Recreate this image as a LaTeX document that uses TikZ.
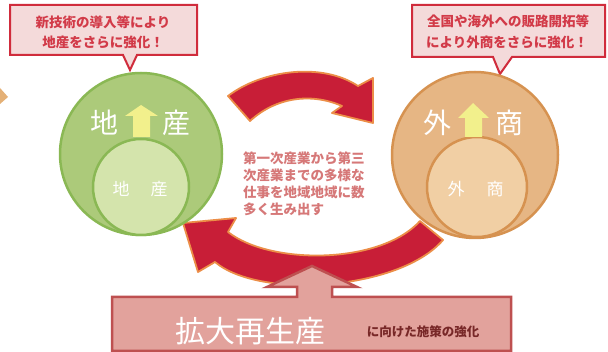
\documentclass[tikz,border=0pt]{standalone}
\usepackage{fontspec}
\newfontfamily\jp{Noto Sans CJK JP}
\definecolor{calloutfill}{RGB}{244,218,218}
\definecolor{calloutline}{RGB}{208,44,60}
\definecolor{callouttext}{RGB}{210,58,72}
\definecolor{greenouter}{RGB}{172,202,122}
\definecolor{greenline}{RGB}{138,184,84}
\definecolor{greeninner}{RGB}{212,228,172}
\definecolor{orangeouter}{RGB}{230,182,132}
\definecolor{orangeline}{RGB}{214,146,80}
\definecolor{orangeinner}{RGB}{241,207,164}
\definecolor{yellowarrow}{RGB}{242,240,140}
\definecolor{redarrow}{RGB}{200,30,55}
\definecolor{redarrowline}{RGB}{236,142,72}
\definecolor{midtext}{RGB}{214,120,120}
\definecolor{boxfill}{RGB}{226,162,156}
\definecolor{boxline}{RGB}{190,80,80}
\definecolor{boxsmall}{RGB}{120,40,40}
\definecolor{edgepiece}{RGB}{228,176,118}
\tikzset{
  callout/.style={fill=calloutfill, draw=calloutline, line width=2pt, line join=miter},
  callouttxt/.style={inner sep=0pt, text=callouttext, font=\jp\bfseries\fontsize{13.5}{16}\selectfont},
  greenbig/.style={circle, inner sep=0pt, fill=greenouter, draw=greenline, line width=2.5pt},
  greensmall/.style={circle, inner sep=0pt, fill=greeninner, draw=greenline, line width=2.5pt},
  orangebig/.style={circle, inner sep=0pt, fill=orangeouter, draw=orangeline, line width=2.5pt},
  orangesmall/.style={circle, inner sep=0pt, fill=orangeinner, draw=orangeline, line width=2.5pt},
  bigword/.style={inner sep=0pt, text=white, font=\jp\fontsize{28}{30}\selectfont},
  smallword/.style={inner sep=0pt, text=white, font=\jp\fontsize{17}{20}\selectfont},
  uparrow/.style={fill=yellowarrow},
  cyclearrow/.style={fill=redarrow, draw=redarrowline, line width=1.8pt, line join=round},
  midtxt/.style={inner sep=0pt, anchor=west, text=midtext, font=\jp\bfseries\fontsize{13.5}{16}\selectfont},
  basebox/.style={fill=boxfill, draw=boxline, line width=2.5pt, line join=miter},
}
\begin{document}
\begin{tikzpicture}[x=1pt,y=-1pt]
\useasboundingbox (0,0) rectangle (608,352);
\fill[white] (0,0) rectangle (608,352);

% small piece at left edge
\fill[edgepiece] (0,88) -- (8,97) -- (0,104) -- cycle;

% callouts
\draw[callout] (10,5) -- (197,5) -- (197,55) -- (137,55) -- (130,70) -- (123,55) -- (10,55) -- cycle;
\node[callouttxt] (cl1) at (103,22) {新技術の導入等により};
\node[callouttxt] (cl2) at (103,42) {地産をさらに強化！};

\draw[callout] (412,5) -- (605,5) -- (605,57) -- (512,57) -- (500,74) -- (493,57) -- (412,57) -- cycle;
\node[callouttxt] (cr1) at (508,21) {全国や海外への販路開拓等};
\node[callouttxt] (cr2) at (507,42) {により外商をさらに強化！};

% cycle arrows
\draw[cyclearrow] (228,96) .. controls (262,70) and (322,62) .. (358,86) -- (373,78) -- (373,123)
  -- (332,113) -- (342,106) .. controls (310,92) and (275,98) .. (250,121) -- cycle;
\draw[cyclearrow] (443,240) .. controls (400,290) and (260,300) .. (215,262) -- (198,272) -- (183,223)
  -- (236,218) -- (228,232) .. controls (270,265) and (380,265) .. (420,221) -- cycle;

% green circles
\node[greenbig, minimum size=162pt] (gout) at (141,154) {};
\node[greensmall, minimum size=96pt] (gin) at (141,187) {};
\fill[uparrow] (141,105) -- (158,116) -- (150,116) -- (150,137) -- (133,137) -- (133,116) -- (125,116) -- cycle;
\node[bigword] (g1) at (104,123) {地};
\node[bigword] (g2) at (176,123) {産};
\node[smallword] (g3) at (121,189) {地};
\node[smallword] (g4) at (159,189) {産};

% orange circles
\node[orangebig, minimum size=166pt] (oout) at (475,155) {};
\node[orangesmall, minimum size=100pt] (oin) at (477,187) {};
\fill[uparrow] (473,103) -- (489,118) -- (482,118) -- (482,137) -- (465,137) -- (465,118) -- (458,118) -- cycle;
\node[bigword] (o1) at (437,123) {外};
\node[bigword] (o2) at (509,123) {商};
\node[smallword] (o3) at (456,189) {外};
\node[smallword] (o4) at (495,189) {商};

% middle text
\node[midtxt] (m1) at (243,158) {第一次産業から第三};
\node[midtxt] (m2) at (243,175.5) {次産業までの多様な};
\node[midtxt] (m3) at (243,192.5) {仕事を地域地域に数};
\node[midtxt] (m4) at (243,209.5) {多く生み出す};

% base box with up arrow
\draw[basebox] (112,297) -- (297,297) -- (297,287) -- (267,287) -- (312,266) -- (357,287) -- (332,287)
  -- (332,297) -- (511,297) -- (511,351) -- (112,351) -- cycle;
\node[inner sep=0pt, text=white, font=\jp\fontsize{30}{32}\selectfont] (b1) at (250,331) {拡大再生産};
\node[inner sep=0pt, text=boxsmall, font=\jp\bfseries\fontsize{12.5}{14}\selectfont] (b2) at (423,332) {に向けた施策の強化};
\end{tikzpicture}
\end{document}
